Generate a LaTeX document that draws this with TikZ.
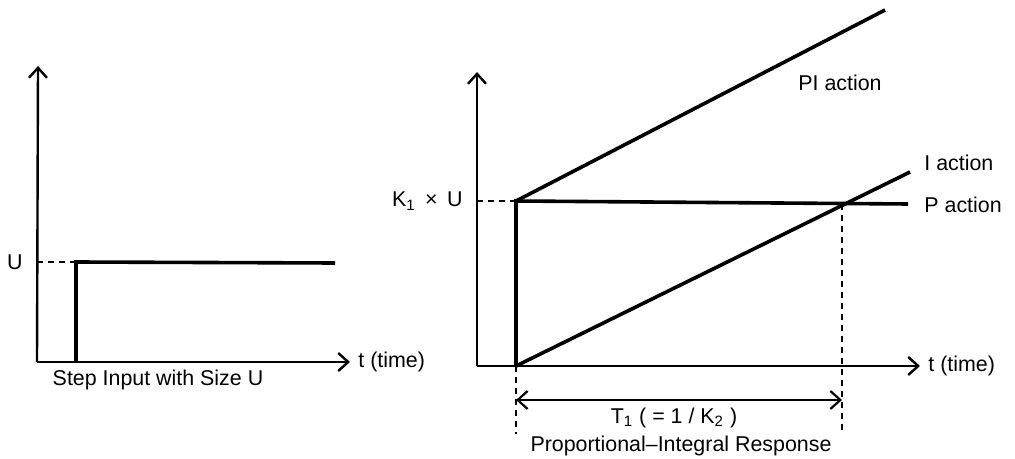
\documentclass[tikz,border=0pt]{standalone}
\usepackage{fontspec}
\setmainfont{Liberation Sans}
\usepackage{tikz}
\usetikzlibrary{positioning, arrows.meta}

\begin{document}
\begin{tikzpicture}[x=0.5pt, y=-0.5pt,
    axis/.style={line width=1.2pt, -{Straight Barb[length=5pt, width=9pt, line width=1.2pt]}},
    sig/.style={line width=1.8pt, line join=miter},
    guide/.style={line width=0.8pt, dashed, dash pattern=on 3pt off 2.5pt},
    dim/.style={line width=1.1pt, {Straight Barb[length=5pt, width=9pt, line width=1.1pt]}-{Straight Barb[length=5pt, width=9pt, line width=1.1pt]}},
    lbl/.style={font=\fontsize{10.7}{12}\selectfont, inner sep=1pt}]
  \useasboundingbox (0,0) rectangle (1015,459);

  % step input
  \coordinate (o1) at (37,362);
  \coordinate (y1) at (38,66);
  \coordinate (x1) at (350,362);
  \coordinate (u1) at (37,262);
  \coordinate (s0) at (76,362);
  \coordinate (s1) at (76,262);
  \coordinate (s2) at (335,263);
  \draw[axis] (o1) -- (y1);
  \draw[axis] (o1) -- (x1);
  \draw[guide] (u1) -- (s1);
  \draw[sig] (s0) -- (s1) -- (s2);
  \node[lbl, left=6pt of u1] (ulbl) {U};
  \node[lbl, right=3pt of x1] (time1) {t (time)};
  \node[lbl] (cap1) at (158,380) {Step Input with Size U};

  % PI response
  \coordinate (o2) at (477,366);
  \coordinate (y2) at (477,72);
  \coordinate (x2) at (920,366);
  \coordinate (k2) at (477,201);
  \coordinate (p0) at (516,366);
  \coordinate (p1) at (516,201);
  \coordinate (p2) at (908,204);
  \coordinate (pi) at (885,10);
  \coordinate (ia) at (910,172);
  \coordinate (cr) at (842,204);
  \coordinate (b1) at (516,434);
  \coordinate (b2) at (842,434);
  \coordinate (d1) at (516,400);
  \coordinate (d2) at (842,400);
  \draw[axis] (o2) -- (y2);
  \draw[axis] (o2) -- (x2);
  \draw[guide] (k2) -- (p1);
  \draw[sig] (p0) -- (p1) -- (p2);
  \draw[sig] (p1) -- (pi);
  \draw[sig] (p0) -- (ia);
  \draw[guide] (p0) -- (b1);
  \draw[guide] (cr) -- (b2);
  \draw[dim] (d1) -- (d2);
  \node[lbl, left=6pt of k2] (klbl) {K\textsubscript{1} \,×\, U};
  \node[lbl, right=3pt of x2] (time2) {t (time)};
  \node[lbl] (pilbl) at (840,83) {PI action};
  \node[lbl, anchor=west] (ilbl) at (922,163) {I action};
  \node[lbl, anchor=west] (plbl) at (922,205) {P action};
  \node[lbl] (tlbl) at (674,418) {T\textsubscript{1} ( = 1 / K\textsubscript{2} )};
  \node[lbl] (cap2) at (681,446) {Proportional–Integral Response};
\end{tikzpicture}
\end{document}
